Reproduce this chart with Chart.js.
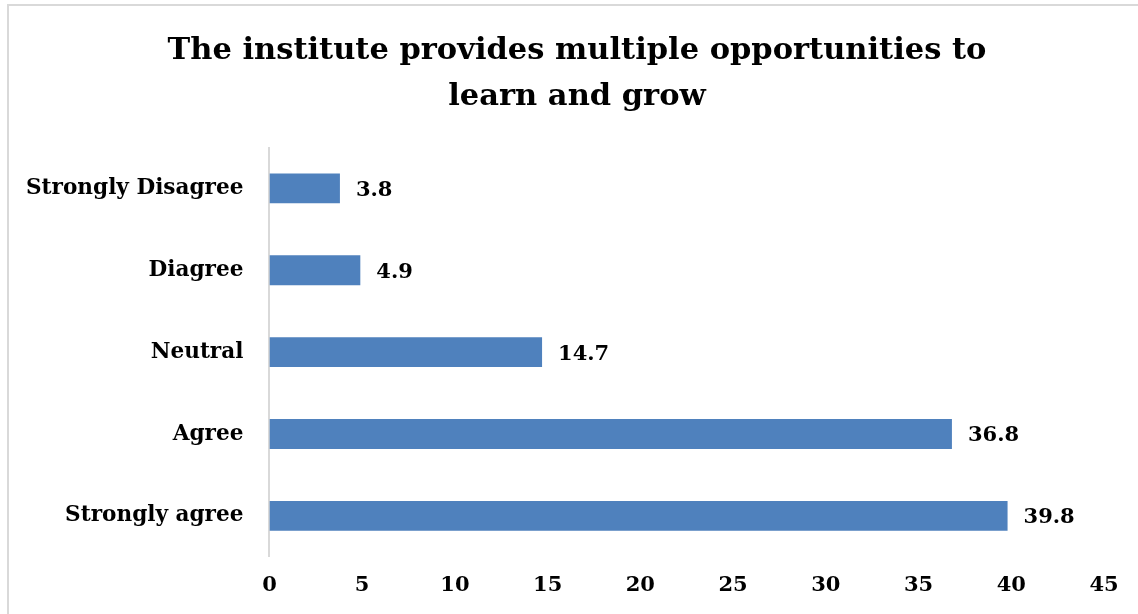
<!DOCTYPE html>
<html>
<head>
<meta charset="utf-8">
<script src="https://cdn.jsdelivr.net/npm/chart.js@4.4.1/dist/chart.umd.min.js"></script>
<style>
  html, body { margin: 0; padding: 0; background: #fff; overflow: hidden; }
  #frame { position: absolute; left: 7px; top: 4px; width: 1160px; height: 640px; border: 2px solid #d9d9d9; }
  #myChart { position: absolute; left: 0; top: 0; }
</style>
</head>
<body>
<div id="frame"></div>
<canvas id="myChart" width="1138" height="614"></canvas>
<script>
// answers, top to bottom as drawn
const categories = ["Strongly Disagree", "Diagree", "Neutral", "Agree", "Strongly agree"];
const percents = [3.8, 4.9, 14.7, 36.8, 39.8];
const xTicks = [0, 5, 10, 15, 20, 25, 30, 35, 40, 45];

const serif = "'DejaVu Serif', 'Liberation Serif', serif";

// value written just past the end of each bar
const valueLabels = {
    id: 'valueLabels',
    afterLayout(chart) {
        // the title sits a bit right of the canvas centre in the original
        if (chart.titleBlock) {
            chart.titleBlock.left += 25;
            chart.titleBlock.right += 25;
        }
    },
    afterDatasetsDraw(chart) {
        const ctx = chart.ctx;
        const meta = chart.getDatasetMeta(0);
        ctx.save();
        ctx.font = "bold 21px " + serif;
        ctx.fillStyle = "#000";
        ctx.textAlign = "left";
        ctx.textBaseline = "middle";
        meta.data.forEach((bar, i) => {
            ctx.fillText(percents[i].toFixed(1), bar.x + 16, bar.y + 2);
        });
        ctx.restore();
    }
};

const ctx = document.getElementById('myChart').getContext('2d');
const myChart = new Chart(ctx, {
    type: 'bar',
    data: {
        labels: categories,
        datasets: [{
            data: percents,
            backgroundColor: '#4f81bd',
            borderColor: '#4f81bd',
            borderWidth: 0,
            categoryPercentage: 1,
            barPercentage: 0.365
        }]
    },
    options: {
        indexAxis: 'y',
        responsive: false,
        animation: false,
        layout: { padding: { top: 12, left: 0, right: 34, bottom: 0 } },
        plugins: {
            legend: { display: false },
            tooltip: { enabled: false },
            title: {
                display: true,
                text: ["The institute provides multiple opportunities to", "learn and grow"],
                color: '#000',
                font: { family: serif, size: 30.5, weight: 'bold', lineHeight: 1.5 },
                padding: { top: 16, bottom: 28 }
            }
        },
        scales: {
            x: {
                min: 0,
                max: 45,
                afterBuildTicks: (axis) => { axis.ticks = xTicks.map(v => ({ value: v })); },
                grid: { display: false, drawTicks: false },
                border: { display: false },
                ticks: {
                    color: '#000',
                    padding: 16,
                    font: { family: serif, size: 21, weight: 'bold' }
                }
            },
            y: {
                grid: { display: false, drawTicks: false },
                border: { display: true, color: '#d9d9d9', width: 2 },
                ticks: {
                    color: '#000',
                    padding: 26,
                    font: { family: serif, size: 21.6, weight: 'bold' }
                }
            }
        }
    },
    plugins: [valueLabels]
});
</script>
</body>
</html>
